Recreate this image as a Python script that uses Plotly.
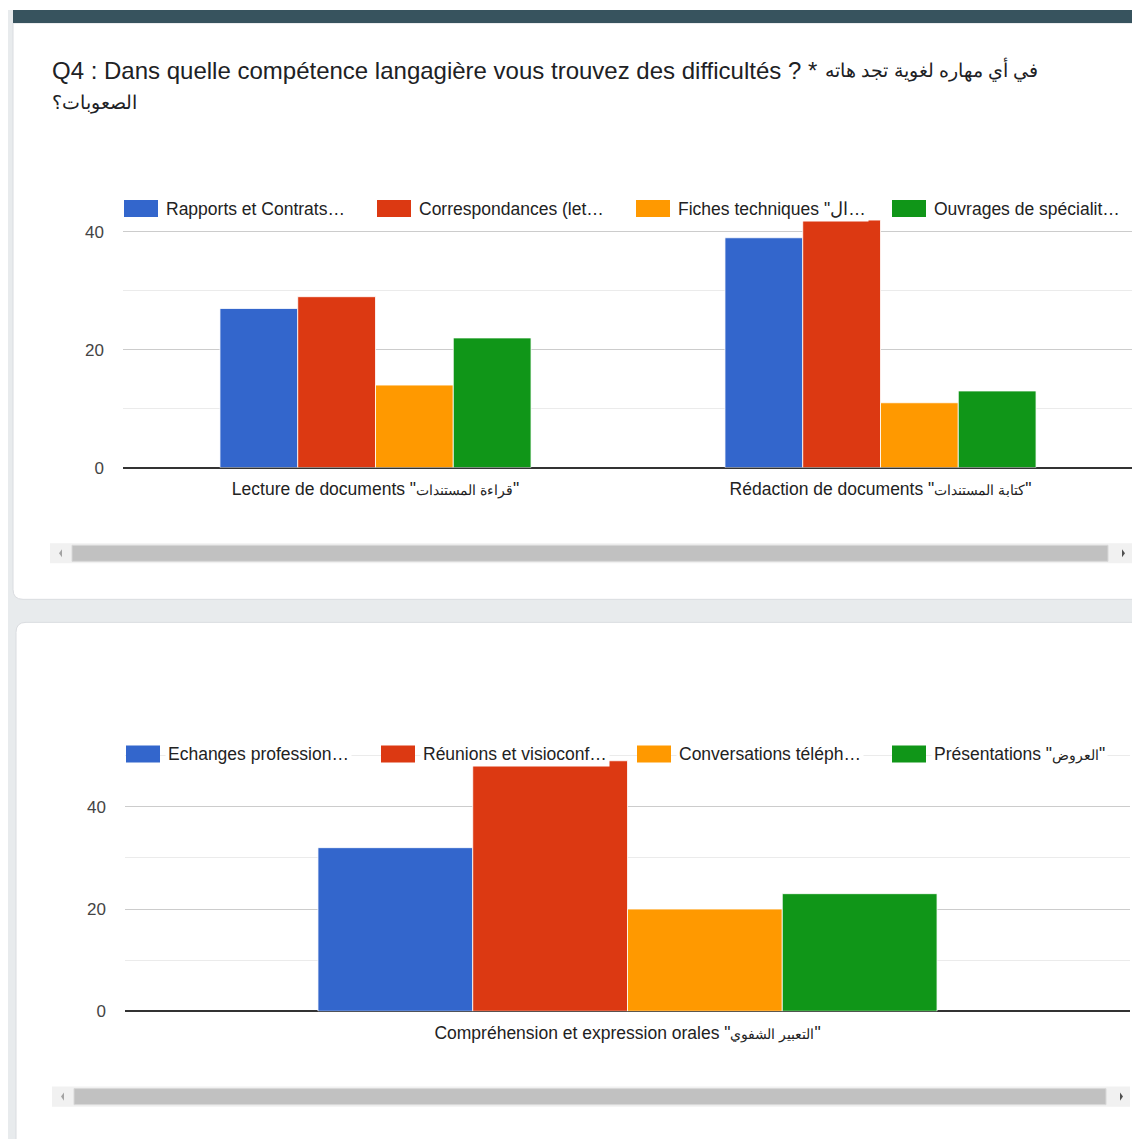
import plotly.graph_objects as go

# ---------------- data ----------------
written_skills = ['Lecture de documents "قراءة المستندات"', 'Rédaction de documents "كتابة المستندات"']
written_series = ['Rapports et Contrats…', 'Correspondances (let…', 'Fiches techniques "ال…', 'Ouvrages de spécialit…']
rapports = [27, 39]
correspondances = [29, 42]
fiches = [14, 11]
ouvrages = [22, 13]

oral_skills = ['Compréhension et expression orales "التعبير الشفوي"']
oral_series = ['Echanges profession…', 'Réunions et visioconf…', 'Conversations téléph…', 'Présentations "العروض"']
echanges = [32]
reunions = [49]
conversations = [20]
presentations = [23]

y_ticks = [0, 20, 40]
title_fr = "Q4 : Dans quelle compétence langagière vous trouvez des difficultés ? *"
title_ar = "في أي مهاره لغوية تجد هاته"
title_ar2 = "الصعوبات؟"

colors = ["#3366cc", "#dc3912", "#ff9900", "#109618"]

# ---------------- geometry helpers ----------------
# the page body has an 8px margin, so the figure is placed at (8, 8)
OFF = 8
W, H = 1132, 1131
KY = 1.0095  # vertical correction


def px(x):
    return (x - OFF) / W


def py(y):
    return 1 - (y - OFF) * KY / H


def clamp(v):
    return max(0.0, min(1.0, v))


FONT = "Arial, 'Liberation Sans', sans-serif"


def shrink_arabic(label, size):
    """Render the Arabic (quoted) part of a label in a smaller font size."""
    if '"' in label:
        head, rest = label.split('"', 1)
        inner = rest.rsplit('"', 1)[0]
        return f'{head}"<span style="font-size:{size}px">{inner}</span>"'
    return label


fig = go.Figure()

written_vals = [rapports, correspondances, fiches, ouvrages]
for name, vals, c in zip(written_series, written_vals, colors):
    fig.add_trace(go.Bar(x=written_skills, y=vals, name=name, marker_color=c,
                         marker_line=dict(color="rgba(255,255,255,0.8)", width=1),
                         xaxis="x", yaxis="y", showlegend=False))

oral_vals = [echanges, reunions, conversations, presentations]
for name, vals, c in zip(oral_series, oral_vals, colors):
    fig.add_trace(go.Bar(x=oral_skills, y=vals, name=name, marker_color=c,
                         marker_line=dict(color="rgba(255,255,255,0.8)", width=1),
                         xaxis="x2", yaxis="y2", showlegend=False))

axis_common_y = dict(
    tickvals=y_ticks, showgrid=True, gridcolor="#cccccc", gridwidth=1,
    minor=dict(dtick=10, showgrid=True, gridcolor="#ebebeb", gridwidth=1),
    zeroline=True, zerolinecolor="#333333", zerolinewidth=1.5,
    showline=False, ticks="", ticklabelstandoff=18,
    tickfont=dict(family=FONT, size=17, color="#444444"),
    fixedrange=True,
)
axis_common_x = dict(
    showgrid=False, showline=False, ticks="", ticklabelstandoff=9,
    tickfont=dict(family=FONT, size=17.5, color="#222222"),
    fixedrange=True,
)

fig.update_layout(
    width=W, height=H, autosize=False,
    margin=dict(l=0, r=0, t=0, b=0),
    paper_bgcolor="white", plot_bgcolor="rgba(0,0,0,0)",
    barmode="group", bargap=0.384, bargroupgap=0.0,
    xaxis=dict(domain=[clamp(px(123)), clamp(px(1133))], anchor="y",
               tickvals=written_skills, ticktext=[shrink_arabic(s, 14) for s in written_skills],
               **axis_common_x),
    yaxis=dict(domain=[clamp(py(467.3)), clamp(py(202.3))], range=[0, 45], anchor="x", **axis_common_y),
    xaxis2=dict(domain=[clamp(px(125)), clamp(px(1130))], anchor="y2",
                tickvals=oral_skills, ticktext=[shrink_arabic(s, 14) for s in oral_skills],
                **axis_common_x),
    yaxis2=dict(domain=[clamp(py(1010.7)), clamp(py(750.1))], range=[0, 51], anchor="x2", **axis_common_y),
    font=dict(family=FONT),
)

shapes = []
# page background (grey) and cards
shapes.append(dict(type="rect", xref="paper", yref="paper", layer="below",
                   x0=px(6), x1=px(1145), y0=py(1160), y1=py(10),
                   fillcolor="#e8ebed", line=dict(width=0)))


def rounded_path(x0, y0, x1, y1, r_top, r_bot):
    pts = []
    pts.append(f"M{px(x0)},{py(y0 + r_top)}")
    if r_top:
        pts.append(f"Q{px(x0)},{py(y0)} {px(x0 + r_top)},{py(y0)}")
    pts.append(f"L{px(x1)},{py(y0)}")
    pts.append(f"L{px(x1)},{py(y1)}")
    pts.append(f"L{px(x0 + r_bot)},{py(y1)}")
    if r_bot:
        pts.append(f"Q{px(x0)},{py(y1)} {px(x0)},{py(y1 - r_bot)}")
    pts.append("Z")
    return " ".join(pts)


shapes.append(dict(type="path", xref="paper", yref="paper", layer="below",
                   path=rounded_path(13, 23, 1150, 599, 0, 10),
                   fillcolor="white", line=dict(color="#dadce0", width=1)))
shapes.append(dict(type="path", xref="paper", yref="paper", layer="below",
                   path=rounded_path(16, 622, 1150, 1180, 10, 0),
                   fillcolor="white", line=dict(color="#dadce0", width=1)))
# top dark band
shapes.append(dict(type="rect", xref="paper", yref="paper", layer="below",
                   x0=px(13), x1=px(1145), y0=py(23), y1=py(10),
                   fillcolor="#37535e", line=dict(width=0)))

# scrollbars
for (tx0, tx1, ty0, ty1) in [(50, 1132, 543, 563), (52, 1130, 1086, 1106)]:
    shapes.append(dict(type="rect", xref="paper", yref="paper", layer="below",
                       x0=px(tx0), x1=px(tx1), y0=py(ty1), y1=py(ty0),
                       fillcolor="#f1f1f1", line=dict(width=0)))
    shapes.append(dict(type="rect", xref="paper", yref="paper", layer="below",
                       x0=px(tx0 + 22), x1=px(tx1 - 24), y0=py(ty1 - 2), y1=py(ty0 + 2),
                       fillcolor="#c1c1c1", line=dict(color="#d8d8d8", width=1)))
    cy = (ty0 + ty1) / 2
    lx = tx0 + 9
    shapes.append(dict(type="path", xref="paper", yref="paper",
                       path=f"M{px(lx + 3)},{py(cy - 4)} L{px(lx)},{py(cy)} L{px(lx + 3)},{py(cy + 4)} Z",
                       fillcolor="#a3a3a3", line=dict(width=0)))
    rx = tx1 - 10
    shapes.append(dict(type="path", xref="paper", yref="paper",
                       path=f"M{px(rx)},{py(cy - 4)} L{px(rx + 3)},{py(cy)} L{px(rx)},{py(cy + 4)} Z",
                       fillcolor="#505050", line=dict(width=0)))

annotations = []
annotations.append(dict(xref="paper", yref="paper", x=px(50), y=py(70), xanchor="left", yanchor="middle",
                        text=title_fr, showarrow=False,
                        font=dict(family=FONT, size=24, color="#202124")))
annotations.append(dict(xref="paper", yref="paper", x=px(1040), y=py(69), xanchor="right", yanchor="middle",
                        text=title_ar, showarrow=False,
                        font=dict(family=FONT, size=19, color="#202124")))
annotations.append(dict(xref="paper", yref="paper", x=px(50), y=py(103), xanchor="left", yanchor="middle",
                        text=title_ar2, showarrow=False,
                        font=dict(family=FONT, size=19, color="#202124")))

# manual legends
leg_positions = [
    (208.5, [124, 377, 636, 892], written_series),
    (753.5, [126, 381, 637, 892], oral_series),
]
for cy, xs, names in leg_positions:
    for x0, name, c in zip(xs, names, colors):
        shapes.append(dict(type="rect", xref="paper", yref="paper",
                           x0=px(x0), x1=px(x0 + 34), y0=py(cy + 8.5), y1=py(cy - 8.5),
                           fillcolor=c, line=dict(width=0)))
        label = name if name.endswith("…") else shrink_arabic(name, 14)
        annotations.append(dict(xref="paper", yref="paper", x=px(x0 + 39), y=py(cy),
                                xanchor="left", yanchor="middle", text=label, showarrow=False,
                                bgcolor="white", borderpad=2,
                                font=dict(family=FONT, size=17.5, color="#222222")))

fig.update_layout(shapes=shapes, annotations=annotations)

fig.write_html("out.html", config={"displayModeBar": False})
